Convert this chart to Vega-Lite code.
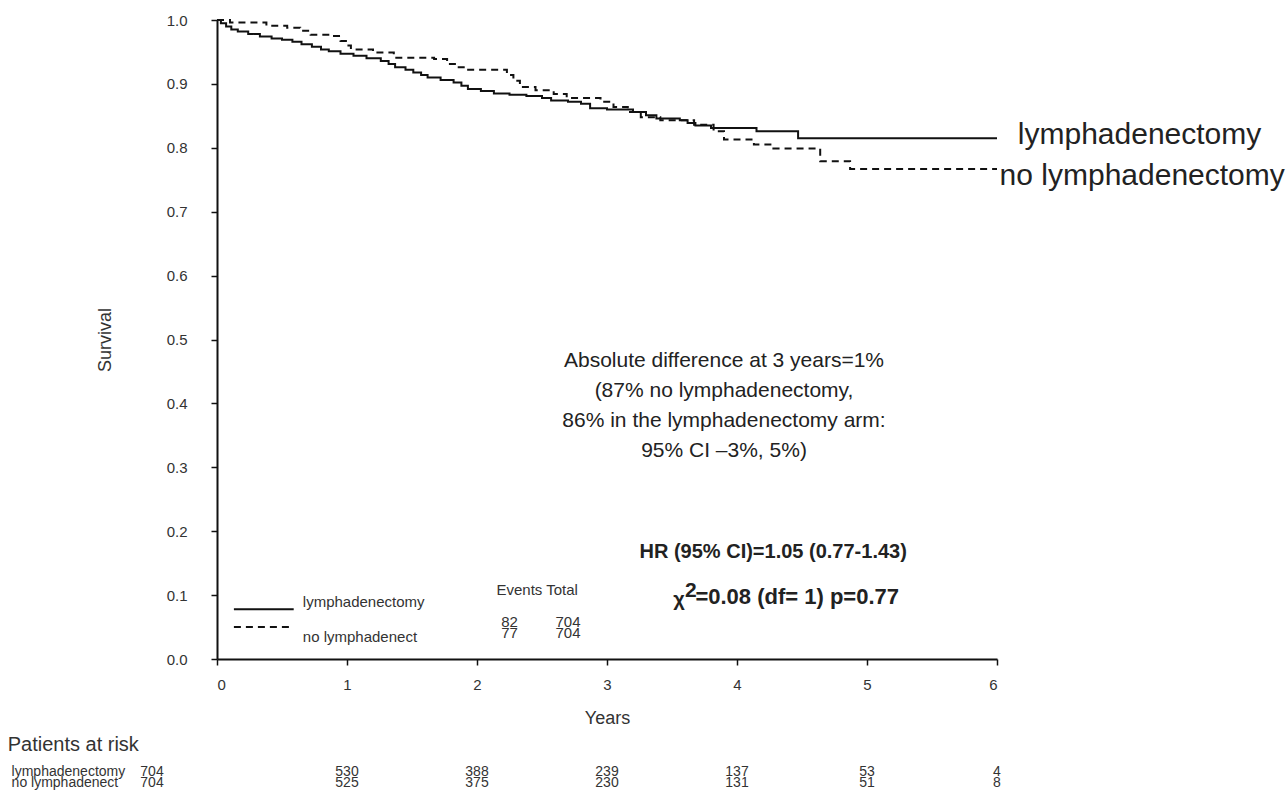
{
  "$schema": "https://vega.github.io/schema/vega-lite/v6.json",
  "width": 780,
  "height": 639,
  "autosize": {"type": "none"},
  "padding": {"left": 217, "top": 20, "right": 290, "bottom": 132},
  "background": "white",
  "config": {
    "view": {"stroke": null},
    "font": "Liberation Sans",
    "text": {"font": "Liberation Sans", "color": "#222", "baseline": "middle"}
  },
  "datasets": {
    "km": [
      {"arm": "lymphadenectomy", "t": 0, "s": 1.0},
      {"arm": "lymphadenectomy", "t": 0.03, "s": 0.995},
      {"arm": "lymphadenectomy", "t": 0.07, "s": 0.99},
      {"arm": "lymphadenectomy", "t": 0.11, "s": 0.985},
      {"arm": "lymphadenectomy", "t": 0.16, "s": 0.982},
      {"arm": "lymphadenectomy", "t": 0.24, "s": 0.978},
      {"arm": "lymphadenectomy", "t": 0.33, "s": 0.974},
      {"arm": "lymphadenectomy", "t": 0.42, "s": 0.971},
      {"arm": "lymphadenectomy", "t": 0.5, "s": 0.969},
      {"arm": "lymphadenectomy", "t": 0.58, "s": 0.966},
      {"arm": "lymphadenectomy", "t": 0.65, "s": 0.962},
      {"arm": "lymphadenectomy", "t": 0.73, "s": 0.958},
      {"arm": "lymphadenectomy", "t": 0.8, "s": 0.954},
      {"arm": "lymphadenectomy", "t": 0.86, "s": 0.951},
      {"arm": "lymphadenectomy", "t": 0.95, "s": 0.947},
      {"arm": "lymphadenectomy", "t": 1.05, "s": 0.944},
      {"arm": "lymphadenectomy", "t": 1.15, "s": 0.94},
      {"arm": "lymphadenectomy", "t": 1.26, "s": 0.936},
      {"arm": "lymphadenectomy", "t": 1.32, "s": 0.931},
      {"arm": "lymphadenectomy", "t": 1.37, "s": 0.926},
      {"arm": "lymphadenectomy", "t": 1.45, "s": 0.922},
      {"arm": "lymphadenectomy", "t": 1.51, "s": 0.918},
      {"arm": "lymphadenectomy", "t": 1.57, "s": 0.914},
      {"arm": "lymphadenectomy", "t": 1.62, "s": 0.91},
      {"arm": "lymphadenectomy", "t": 1.72, "s": 0.906},
      {"arm": "lymphadenectomy", "t": 1.82, "s": 0.902},
      {"arm": "lymphadenectomy", "t": 1.88, "s": 0.897},
      {"arm": "lymphadenectomy", "t": 1.93, "s": 0.892},
      {"arm": "lymphadenectomy", "t": 2.03, "s": 0.889},
      {"arm": "lymphadenectomy", "t": 2.13, "s": 0.885},
      {"arm": "lymphadenectomy", "t": 2.25, "s": 0.883},
      {"arm": "lymphadenectomy", "t": 2.38, "s": 0.881},
      {"arm": "lymphadenectomy", "t": 2.5, "s": 0.878},
      {"arm": "lymphadenectomy", "t": 2.57, "s": 0.874},
      {"arm": "lymphadenectomy", "t": 2.7, "s": 0.872},
      {"arm": "lymphadenectomy", "t": 2.8, "s": 0.869},
      {"arm": "lymphadenectomy", "t": 2.87, "s": 0.862},
      {"arm": "lymphadenectomy", "t": 3.0, "s": 0.86},
      {"arm": "lymphadenectomy", "t": 3.2, "s": 0.856},
      {"arm": "lymphadenectomy", "t": 3.3, "s": 0.851},
      {"arm": "lymphadenectomy", "t": 3.38, "s": 0.846},
      {"arm": "lymphadenectomy", "t": 3.56, "s": 0.843},
      {"arm": "lymphadenectomy", "t": 3.62, "s": 0.839},
      {"arm": "lymphadenectomy", "t": 3.68, "s": 0.835},
      {"arm": "lymphadenectomy", "t": 3.8, "s": 0.831},
      {"arm": "lymphadenectomy", "t": 4.15, "s": 0.826},
      {"arm": "lymphadenectomy", "t": 4.47, "s": 0.815},
      {"arm": "lymphadenectomy", "t": 6.0, "s": 0.815},
      {"arm": "no lymphadenectomy", "t": 0, "s": 1.0},
      {"arm": "no lymphadenectomy", "t": 0.1, "s": 0.996},
      {"arm": "no lymphadenectomy", "t": 0.38, "s": 0.991},
      {"arm": "no lymphadenectomy", "t": 0.54, "s": 0.988},
      {"arm": "no lymphadenectomy", "t": 0.64, "s": 0.983},
      {"arm": "no lymphadenectomy", "t": 0.72, "s": 0.977},
      {"arm": "no lymphadenectomy", "t": 0.87, "s": 0.975},
      {"arm": "no lymphadenectomy", "t": 0.95, "s": 0.967},
      {"arm": "no lymphadenectomy", "t": 1.0, "s": 0.96},
      {"arm": "no lymphadenectomy", "t": 1.03, "s": 0.954},
      {"arm": "no lymphadenectomy", "t": 1.2, "s": 0.949},
      {"arm": "no lymphadenectomy", "t": 1.36, "s": 0.941},
      {"arm": "no lymphadenectomy", "t": 1.67, "s": 0.939},
      {"arm": "no lymphadenectomy", "t": 1.77, "s": 0.931},
      {"arm": "no lymphadenectomy", "t": 1.85, "s": 0.926},
      {"arm": "no lymphadenectomy", "t": 1.92, "s": 0.922},
      {"arm": "no lymphadenectomy", "t": 2.23, "s": 0.914},
      {"arm": "no lymphadenectomy", "t": 2.28, "s": 0.905},
      {"arm": "no lymphadenectomy", "t": 2.33, "s": 0.895},
      {"arm": "no lymphadenectomy", "t": 2.45, "s": 0.89},
      {"arm": "no lymphadenectomy", "t": 2.59, "s": 0.884},
      {"arm": "no lymphadenectomy", "t": 2.69, "s": 0.878},
      {"arm": "no lymphadenectomy", "t": 2.95, "s": 0.872},
      {"arm": "no lymphadenectomy", "t": 3.05, "s": 0.864},
      {"arm": "no lymphadenectomy", "t": 3.16, "s": 0.856},
      {"arm": "no lymphadenectomy", "t": 3.26, "s": 0.848},
      {"arm": "no lymphadenectomy", "t": 3.41, "s": 0.843},
      {"arm": "no lymphadenectomy", "t": 3.67, "s": 0.836},
      {"arm": "no lymphadenectomy", "t": 3.82, "s": 0.826},
      {"arm": "no lymphadenectomy", "t": 3.9, "s": 0.813},
      {"arm": "no lymphadenectomy", "t": 4.13, "s": 0.805},
      {"arm": "no lymphadenectomy", "t": 4.28, "s": 0.799},
      {"arm": "no lymphadenectomy", "t": 4.64, "s": 0.779},
      {"arm": "no lymphadenectomy", "t": 4.87, "s": 0.767},
      {"arm": "no lymphadenectomy", "t": 6.0, "s": 0.767}
    ],
    "risk": [
      {"arm": "lymphadenectomy", "t": 0, "n": 704},
      {"arm": "lymphadenectomy", "t": 1, "n": 530},
      {"arm": "lymphadenectomy", "t": 2, "n": 388},
      {"arm": "lymphadenectomy", "t": 3, "n": 239},
      {"arm": "lymphadenectomy", "t": 4, "n": 137},
      {"arm": "lymphadenectomy", "t": 5, "n": 53},
      {"arm": "lymphadenectomy", "t": 6, "n": 4},
      {"arm": "no lymphadenectomy", "t": 0, "n": 704},
      {"arm": "no lymphadenectomy", "t": 1, "n": 525},
      {"arm": "no lymphadenectomy", "t": 2, "n": 375},
      {"arm": "no lymphadenectomy", "t": 3, "n": 230},
      {"arm": "no lymphadenectomy", "t": 4, "n": 131},
      {"arm": "no lymphadenectomy", "t": 5, "n": 51},
      {"arm": "no lymphadenectomy", "t": 6, "n": 8}
    ]
  },
  "layer": [
    {
      "data": {"name": "km"},
      "mark": {"type": "line", "interpolate": "step-after", "strokeWidth": 2, "color": "#111"},
      "encoding": {
        "x": {
          "field": "t", "type": "quantitative",
          "scale": {"domain": [0, 6], "nice": false, "zero": false},
          "axis": {
            "values": [0, 1, 2, 3, 4, 5, 6], "format": "d", "grid": false,
            "title": "Years", "titleFont": "Liberation Sans", "titleFontSize": 18, "titleFontWeight": "normal", "titleColor": "#333", "titlePadding": 17,
            "labelFont": "Liberation Sans", "labelFontSize": 15, "labelColor": "#333", "labelPadding": 12,
            "tickSize": 6, "tickColor": "#111", "tickWidth": 1.5,
            "domainColor": "#111", "domainWidth": 2
          }
        },
        "y": {
          "field": "s", "type": "quantitative",
          "scale": {"domain": [0, 1], "nice": false},
          "axis": {
            "values": [0, 0.1, 0.2, 0.3, 0.4, 0.5, 0.6, 0.7, 0.8, 0.9, 1.0], "format": ".1f", "grid": false,
            "title": "Survival", "titleFont": "Liberation Sans", "titleFontSize": 18, "titleFontWeight": "normal", "titleColor": "#333", "titlePadding": 52,
            "labelFont": "Liberation Sans", "labelFontSize": 15, "labelColor": "#333", "labelPadding": 24,
            "tickSize": 6, "tickColor": "#111", "tickWidth": 1.5,
            "domainColor": "#111", "domainWidth": 2
          }
        },
        "strokeDash": {
          "field": "arm", "type": "nominal",
          "scale": {"domain": ["lymphadenectomy", "no lymphadenectomy"], "range": [[1, 0], [7, 5]]},
          "legend": null
        }
      }
    },
    {
      "data": {"values": [{"label": "lymphadenectomy"}]},
      "mark": {"type": "rule", "strokeWidth": 2, "color": "#111"},
      "encoding": {"x": {"datum": 0.13}, "x2": {"datum": 0.59}, "y": {"datum": 0.078}}
    },
    {
      "data": {"values": [{"label": "no lymphadenect"}]},
      "mark": {"type": "rule", "strokeWidth": 2, "color": "#111", "strokeDash": [7, 5]},
      "encoding": {"x": {"datum": 0.13}, "x2": {"datum": 0.59}, "y": {"datum": 0.05}}
    },
    {
      "data": {"values": [{"label": "lymphadenectomy"}]},
      "mark": {"type": "text", "align": "left", "fontSize": 15, "color": "#333"},
      "encoding": {"x": {"datum": 0.66}, "y": {"datum": 0.089}, "text": {"field": "label"}}
    },
    {
      "data": {"values": [{"label": "no lymphadenect"}]},
      "mark": {"type": "text", "align": "left", "fontSize": 15, "color": "#333"},
      "encoding": {"x": {"datum": 0.66}, "y": {"datum": 0.034}, "text": {"field": "label"}}
    },
    {
      "data": {"values": [{"label": "Events Total"}]},
      "mark": {"type": "text", "align": "left", "fontSize": 15, "color": "#333"},
      "encoding": {"x": {"datum": 2.15}, "y": {"datum": 0.108}, "text": {"field": "label"}}
    },
    {
      "data": {"values": [{"label": "82"}]},
      "mark": {"type": "text", "align": "center", "fontSize": 15, "color": "#333"},
      "encoding": {"x": {"datum": 2.25}, "y": {"datum": 0.058}, "text": {"field": "label"}}
    },
    {
      "data": {"values": [{"label": "77"}]},
      "mark": {"type": "text", "align": "center", "fontSize": 15, "color": "#333"},
      "encoding": {"x": {"datum": 2.25}, "y": {"datum": 0.041}, "text": {"field": "label"}}
    },
    {
      "data": {"values": [{"label": "704"}]},
      "mark": {"type": "text", "align": "center", "fontSize": 15, "color": "#333"},
      "encoding": {"x": {"datum": 2.7}, "y": {"datum": 0.058}, "text": {"field": "label"}}
    },
    {
      "data": {"values": [{"label": "704"}]},
      "mark": {"type": "text", "align": "center", "fontSize": 15, "color": "#333"},
      "encoding": {"x": {"datum": 2.7}, "y": {"datum": 0.041}, "text": {"field": "label"}}
    },
    {
      "data": {"values": [{"label": "lymphadenectomy"}]},
      "mark": {"type": "text", "align": "left", "fontSize": 30, "color": "#222"},
      "encoding": {"x": {"datum": 6.16}, "y": {"datum": 0.82}, "text": {"field": "label"}}
    },
    {
      "data": {"values": [{"label": "no lymphadenectomy"}]},
      "mark": {"type": "text", "align": "left", "fontSize": 30, "color": "#222"},
      "encoding": {"x": {"datum": 6.02}, "y": {"datum": 0.756}, "text": {"field": "label"}}
    },
    {
      "data": {"values": [{"label": "Absolute difference at 3 years=1%"}]},
      "mark": {"type": "text", "align": "center", "fontSize": 21, "color": "#222"},
      "encoding": {"x": {"datum": 3.9}, "y": {"datum": 0.466}, "text": {"field": "label"}}
    },
    {
      "data": {"values": [{"label": "(87% no lymphadenectomy,"}]},
      "mark": {"type": "text", "align": "center", "fontSize": 21, "color": "#222"},
      "encoding": {"x": {"datum": 3.9}, "y": {"datum": 0.419}, "text": {"field": "label"}}
    },
    {
      "data": {"values": [{"label": "86% in the lymphadenectomy arm:"}]},
      "mark": {"type": "text", "align": "center", "fontSize": 21, "color": "#222"},
      "encoding": {"x": {"datum": 3.9}, "y": {"datum": 0.372}, "text": {"field": "label"}}
    },
    {
      "data": {"values": [{"label": "95% CI –3%, 5%)"}]},
      "mark": {"type": "text", "align": "center", "fontSize": 21, "color": "#222"},
      "encoding": {"x": {"datum": 3.9}, "y": {"datum": 0.326}, "text": {"field": "label"}}
    },
    {
      "data": {"values": [{"label": "HR (95% CI)=1.05 (0.77-1.43)"}]},
      "mark": {"type": "text", "align": "left", "fontSize": 20, "fontWeight": "bold", "color": "#222"},
      "encoding": {"x": {"datum": 3.25}, "y": {"datum": 0.167}, "text": {"field": "label"}}
    },
    {
      "data": {"values": [{"label": "χ"}]},
      "mark": {"type": "text", "align": "left", "fontSize": 20, "fontWeight": "bold", "color": "#222", "dy": 3},
      "encoding": {"x": {"datum": 3.51}, "y": {"datum": 0.097}, "text": {"field": "label"}}
    },
    {
      "data": {"values": [{"label": "2"}]},
      "mark": {"type": "text", "align": "left", "fontSize": 21, "fontWeight": "bold", "color": "#222", "dy": -6},
      "encoding": {"x": {"datum": 3.6}, "y": {"datum": 0.097}, "text": {"field": "label"}}
    },
    {
      "data": {"values": [{"label": "=0.08 (df= 1) p=0.77"}]},
      "mark": {"type": "text", "align": "left", "fontSize": 22, "fontWeight": "bold", "color": "#222"},
      "encoding": {"x": {"datum": 3.68}, "y": {"datum": 0.097}, "text": {"field": "label"}}
    },
    {
      "data": {"values": [{"label": "Patients at risk"}]},
      "mark": {"type": "text", "align": "left", "fontSize": 20, "color": "#333"},
      "encoding": {"x": {"datum": -1.61}, "y": {"datum": -0.1346}, "text": {"field": "label"}}
    },
    {
      "data": {"values": [{"label": "lymphadenectomy"}]},
      "mark": {"type": "text", "align": "left", "fontSize": 14, "font": "Liberation Sans Narrow, Liberation Sans", "color": "#333"},
      "encoding": {"x": {"datum": -1.58}, "y": {"datum": -0.177}, "text": {"field": "label"}}
    },
    {
      "data": {"values": [{"label": "no lymphadenect"}]},
      "mark": {"type": "text", "align": "left", "fontSize": 14, "font": "Liberation Sans Narrow, Liberation Sans", "color": "#333"},
      "encoding": {"x": {"datum": -1.58}, "y": {"datum": -0.194}, "text": {"field": "label"}}
    },
    {
      "data": {"name": "risk"},
      "transform": [{"filter": "datum.arm === 'lymphadenectomy' && datum.t === 0"}],
      "mark": {"type": "text", "align": "center", "fontSize": 14, "font": "Liberation Sans Narrow, Liberation Sans", "color": "#333"},
      "encoding": {"x": {"datum": -0.5}, "y": {"datum": -0.177}, "text": {"field": "n", "type": "quantitative"}}
    },
    {
      "data": {"name": "risk"},
      "transform": [{"filter": "datum.arm === 'no lymphadenectomy' && datum.t === 0"}],
      "mark": {"type": "text", "align": "center", "fontSize": 14, "font": "Liberation Sans Narrow, Liberation Sans", "color": "#333"},
      "encoding": {"x": {"datum": -0.5}, "y": {"datum": -0.194}, "text": {"field": "n", "type": "quantitative"}}
    },
    {
      "data": {"name": "risk"},
      "transform": [{"filter": "datum.arm === 'lymphadenectomy' && datum.t > 0"}],
      "mark": {"type": "text", "align": "center", "fontSize": 14, "font": "Liberation Sans Narrow, Liberation Sans", "color": "#333"},
      "encoding": {"x": {"field": "t", "type": "quantitative"}, "y": {"datum": -0.177}, "text": {"field": "n", "type": "quantitative"}}
    },
    {
      "data": {"name": "risk"},
      "transform": [{"filter": "datum.arm === 'no lymphadenectomy' && datum.t > 0"}],
      "mark": {"type": "text", "align": "center", "fontSize": 14, "font": "Liberation Sans Narrow, Liberation Sans", "color": "#333"},
      "encoding": {"x": {"field": "t", "type": "quantitative"}, "y": {"datum": -0.194}, "text": {"field": "n", "type": "quantitative"}}
    }
  ]
}
